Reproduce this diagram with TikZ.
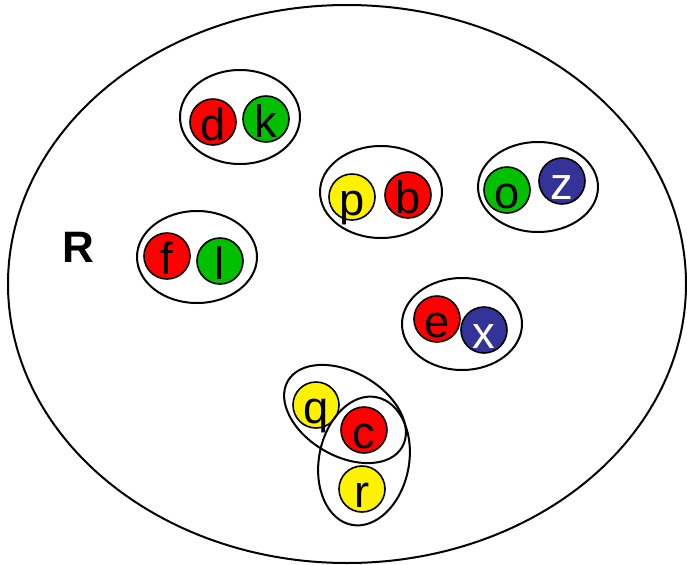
\documentclass[tikz,border=0pt]{standalone}
\usepackage{fontspec}
\setmainfont{Liberation Sans}
\definecolor{elgreen}{RGB}{0,192,0}
\definecolor{elblue}{RGB}{51,51,153}

\begin{document}
\begin{tikzpicture}[
    x=0.75pt, y=-0.75pt,
    elem/.style={circle, draw=black, line width=1.2pt, minimum size=34.5pt, inner sep=0pt, font=\fontsize{34}{34}\selectfont, text height=27pt, text depth=0pt},
    redel/.style={elem, fill=red},
    greenel/.style={elem, fill=elgreen},
    yellowel/.style={elem, fill=yellow},
    blueel/.style={elem, fill=elblue, text=white},
    pair/.style={draw=black, line width=1.5pt}
]
\useasboundingbox (0,0) rectangle (687,565);

% the whole relation
\draw[pair] (347,284) ellipse [x radius=339, y radius=279];
\node[font=\fontsize{33}{33}\selectfont\bfseries] (rlabel) at (78,247) {R};

% elements
\node[redel] (d) at (213,122) {d};
\node[greenel] (k) at (266,119) {k};
\node[yellowel] (p) at (352,197) {p};
\node[redel] (b) at (408,195) {b};
\node[greenel] (o) at (507,190) {o};
\node[blueel] (z) at (562,181) {z};
\node[redel] (f) at (167,256) {f};
\node[greenel] (l) at (220,261) {l};
\node[redel] (e) at (437,319) {e};
\node[blueel] (x) at (484,330) {x};
\node[yellowel] (q) at (316,405) {q};
\node[redel] (c) at (364,430) {c};
\node[yellowel] (r) at (362,489) {r};

% pairs
\draw[pair] (240,117) ellipse [x radius=60, y radius=47];
\draw[pair] (381,192) ellipse [x radius=61, y radius=46];
\draw[pair] (538,187) ellipse [x radius=60, y radius=45];
\draw[pair] (197,257) ellipse [x radius=60, y radius=46];
\draw[pair] (462,324) ellipse [x radius=60, y radius=46];
\draw[pair, rotate around={-30:(345,414)}] (345,414) ellipse [x radius=66, y radius=42];
\draw[pair, rotate around={-11:(364,461)}] (364,461) ellipse [x radius=45, y radius=65];
\end{tikzpicture}
\end{document}
